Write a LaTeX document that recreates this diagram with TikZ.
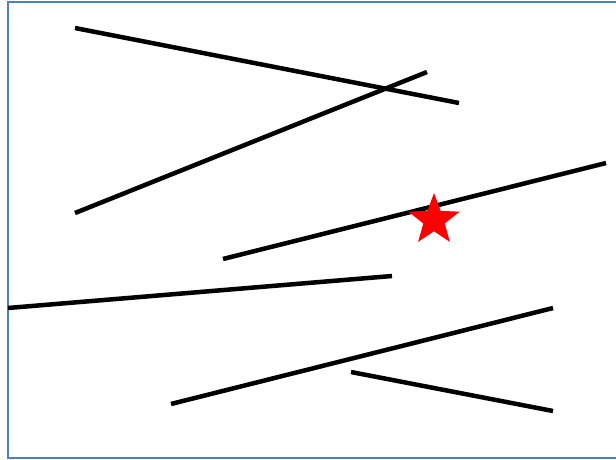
\documentclass[tikz,border=0pt]{standalone}
\usetikzlibrary{shapes.geometric}
\definecolor{frameblue}{RGB}{79,129,189}
\definecolor{starred}{RGB}{255,0,0}

\begin{document}
\begin{tikzpicture}[x=0.05cm,y=-0.05cm,
  seg/.style={line width=6.4pt, line cap=butt},
  mark star/.style={star, star points=5, star point ratio=2.4, fill=starred, draw=none, inner sep=0pt, minimum size=2.7cm}]

\useasboundingbox (0,0) rectangle (616,459);

%frame:
\draw[frameblue, line width=2.8pt] (616,2) -- (8,2) -- (8,458) -- (616,458);

%sticks:
\foreach \xa/\ya/\xb/\yb in {75/28/459/103, 75/213/427/72, 223/259/606/163,
  8/308/392/276, 171/404/553/308, 351/372/553/411}{
  \draw[seg] (\xa,\ya) -- (\xb,\yb);
}

\node[mark star] (target) at (434,220) {};

\end{tikzpicture}
\end{document}
